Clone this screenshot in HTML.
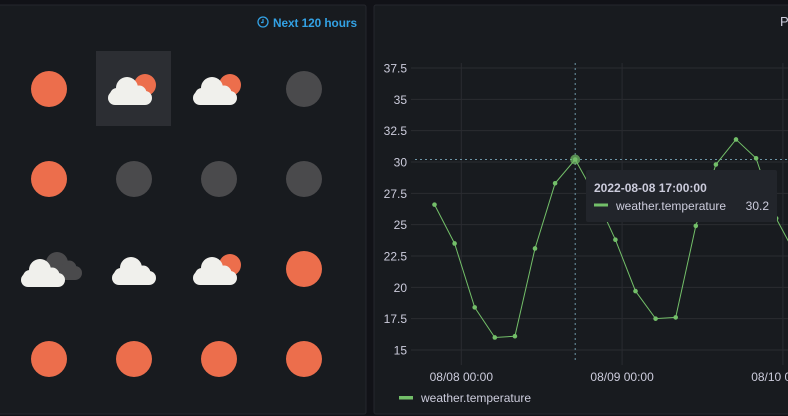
<!DOCTYPE html>
<html><head><meta charset="utf-8"><style>
body{margin:0;width:788px;height:416px;background:#111217;overflow:hidden;font-family:"Liberation Sans",sans-serif;}
svg{display:block}
</style></head><body>
<svg width="788" height="416">
<rect x="-2" y="5" width="368" height="409" rx="2" fill="#181b1f" stroke="#25272d"/>
<rect x="374" y="5" width="420" height="409" rx="2" fill="#181b1f" stroke="#25272d"/>
<g>
<circle cx="263" cy="22" r="5" fill="none" stroke="#33a2e5" stroke-width="1.3"/>
<path d="M263 19v3.5h-2" fill="none" stroke="#33a2e5" stroke-width="1.2"/>
<text x="357" y="27" text-anchor="end" fill="#33a2e5" font-size="11.8" font-weight="bold" textLength="84">Next 120 hours</text>
</g>
<text x="780" y="26" fill="#ccccdc" font-size="13">P</text>
<rect x="96" y="51" width="75" height="75" fill="#2c2e33"/>
<g id="icons"></g>
<g id="chart"></g>
</svg>
<script>
const NS="http://www.w3.org/2000/svg";
function mk(t,a,p){const e=document.createElementNS(NS,t);for(const k in a)e.setAttribute(k,a[k]);p.appendChild(e);return e;}
const icons=document.getElementById('icons');
const grid=[["sun","cloudsun","cloudsun","night"],["sun","night","night","night"],["cloudnight","cloud","cloudsun","sun"],["sun","sun","sun","sun"]];
const cx=[49,134,219,304], cy=[89,179,269,359];
function cloud(g,x,y,col){
  mk('rect',{x:x-22,y:y-1,width:44,height:14,rx:7,fill:col},g);
  mk('circle',{cx:x-3,cy:y-4,r:11,fill:col},g);
  mk('circle',{cx:x+9,cy:y+1,r:7.5,fill:col},g);
  mk('circle',{cx:x-13,cy:y+3,r:7,fill:col},g);
}
grid.forEach((row,r)=>row.forEach((k,c)=>{
  const g=mk('g',{},icons);
  
  
  const x=cx[c],y=cy[r];
  if(k==='sun')mk('circle',{cx:x,cy:y,r:18,fill:'#ec6e4c'},g);
  else if(k==='night')mk('circle',{cx:x,cy:y,r:18,fill:'#4a4a4c'},g);
  else if(k==='cloudsun'){mk('circle',{cx:x+11,cy:y-4,r:11,fill:'#ec6e4c'},g);cloud(g,x-4,y+3,'#f0f0ec');}
  else if(k==='cloud'){cloud(g,x,y+3,'#f0f0ec');}
  else if(k==='cloudnight'){cloud(g,x+11,y-2,'#4a4a4c');cloud(g,x-6,y+5,'#f0f0ec');}
}));
// chart data
const hours=[-4,-1,2,5,8,11,14,17,20,23,26,29,32,35,38,41,44,47,50];
const temps=[26.6,23.5,18.4,16.0,16.1,23.1,28.3,30.2,27.3,23.8,19.7,17.5,17.6,24.9,29.8,31.8,30.3,25.5,22.5];
const yTicks=[15,17.5,20,22.5,25,27.5,30,32.5,35,37.5];
const xTicks=[0,24,48];
const xLabels=["08/08 00:00","08/09 00:00","08/10 00:00"];
const X=h=>461.3+h*(160.8/24);
const Y=v=>350-(v-15)*(282/22.5);
const ch=document.getElementById('chart');
yTicks.forEach(v=>{
  const l=mk('line',{x1:411,x2:794,y1:Y(v),y2:Y(v),stroke:'#2a2c31'},ch);
  
  const t=mk('text',{x:407,y:Y(v)+4.5,'text-anchor':'end',fill:'#ccccdc','font-size':12},ch);
  
  t.textContent=String(v);
});
xTicks.forEach((h,i)=>{
  const l=mk('line',{x1:X(h),x2:X(h),y1:63,y2:365,stroke:'#2a2c31'},ch);
  
  const t=mk('text',{x:X(h),y:381,'text-anchor':'middle',fill:'#ccccdc','font-size':12},ch);
  
  t.textContent=xLabels[i];
});
const hi=7;
const vl=mk('line',{x1:X(hours[hi]),x2:X(hours[hi]),y1:63,y2:363,stroke:'#6f97a8','stroke-dasharray':'2 3'},ch);

const hl=mk('line',{x1:415,x2:794,y1:Y(temps[hi]),y2:Y(temps[hi]),stroke:'#6f97a8','stroke-dasharray':'2 3'},ch);

const pl=mk('polyline',{points:hours.map((h,i)=>X(h)+','+Y(temps[i])).join(' '),fill:'none',stroke:'#73bf69','stroke-width':1},ch);

hours.forEach((h,i)=>{
  const p=mk('circle',{cx:X(h),cy:Y(temps[i]),r:2.3,fill:'#73bf69'},ch);
  
});
const hp=mk('circle',{cx:X(hours[hi]),cy:Y(temps[hi]),r:5,fill:'#73bf69','fill-opacity':0.7},ch);

const tg=mk('g',{},ch);

mk('rect',{x:586,y:170,width:191,height:52,rx:2,fill:'#22252b'},tg);
mk('text',{x:594,y:192,fill:'#ccccdc','font-size':12,'font-weight':'bold'},tg).textContent='2022-08-08 17:00:00';
mk('rect',{x:594,y:203.5,width:14,height:3,fill:'#73bf69'},tg);
mk('text',{x:616,y:210,fill:'#ccccdc','font-size':12},tg).textContent='weather.temperature';
mk('text',{x:769,y:210,'text-anchor':'end',fill:'#ccccdc','font-size':12},tg).textContent=String(temps[hi]);
const lg=mk('g',{},ch);

mk('rect',{x:399,y:396,width:14,height:3.5,fill:'#73bf69'},lg);
mk('text',{x:421,y:402,fill:'#ccccdc','font-size':12},lg).textContent='weather.temperature';
</script>
</body></html>
